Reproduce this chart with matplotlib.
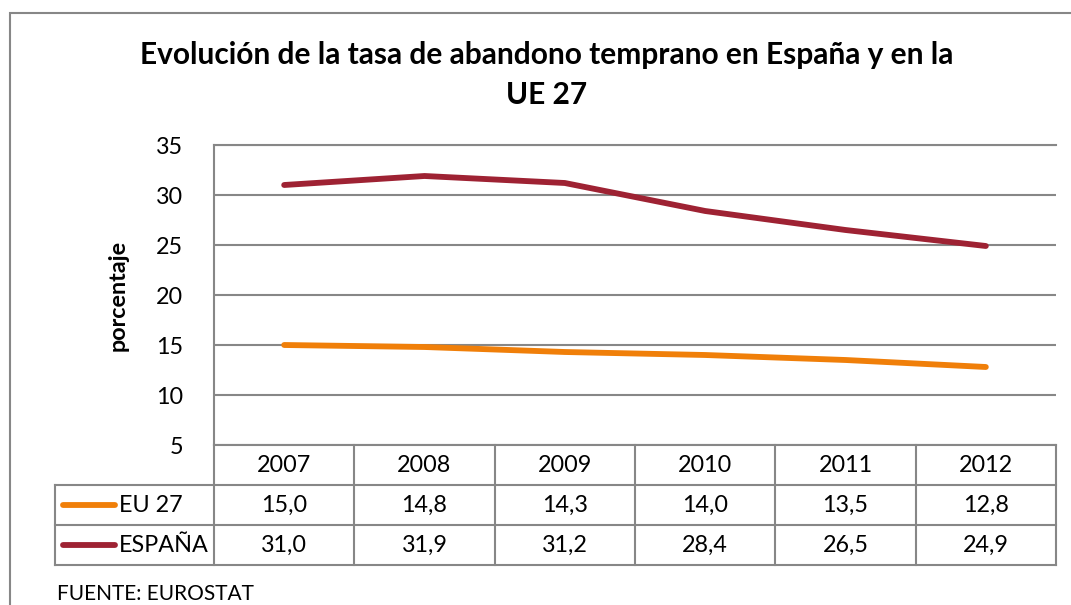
import numpy as np
import matplotlib.pyplot as plt
from matplotlib.lines import Line2D
from matplotlib.patches import Rectangle

plt.rcParams['font.family'] = ['Lato', 'DejaVu Sans']

years = ['2007', '2008', '2009', '2010', '2011', '2012']
eu27 = [15.0, 14.8, 14.3, 14.0, 13.5, 12.8]
espana = [31.0, 31.9, 31.2, 28.4, 26.5, 24.9]
series_names = ['EU 27', 'ESPAÑA']
colores = ['#F07F09', '#9E2233']
yticks = [5, 10, 15, 20, 25, 30, 35]

W, H = 1071, 605
gris = '#878787'
fs = 16.8

def fx(px):
    return px / W

def fy(py):
    return 1 - py / H

fig = plt.figure(figsize=(W / 100, H / 100), dpi=100)

# marco exterior
fig.add_artist(Rectangle((fx(10), fy(700)), fx(1100), fy(13) - fy(700),
                         fill=False, edgecolor=gris, lw=1.5, transform=fig.transFigure))

# area del grafico
left, right, top, bottom = 214, 1056, 145, 445
ax = fig.add_axes([fx(left), fy(bottom), fx(right - left), fy(top) - fy(bottom)])
x = np.arange(len(years))
ax.plot(x, eu27, color=colores[0], lw=4.2, solid_capstyle='round')
ax.plot(x, espana, color=colores[1], lw=4.2, solid_capstyle='round')
ax.set_xlim(-0.5, len(years) - 0.5)
ax.set_ylim(5, 35)
ax.set_yticks(yticks)
ax.set_yticklabels([str(t) for t in yticks], fontsize=fs)
ax.set_xticks([])
ax.tick_params(axis='y', length=0, pad=22)
ax.grid(axis='y', color=gris, lw=1.5)
ax.set_axisbelow(True)
for s in ['right', 'bottom']:
    ax.spines[s].set_visible(False)
for s in ['left', 'top']:
    ax.spines[s].set_color(gris)
    ax.spines[s].set_linewidth(1.5)
ax.set_ylabel('porcentaje', fontsize=16.8, fontweight='bold', labelpad=20)

fig.text(fx(547), fy(55), 'Evolución de la tasa de abandono temprano en España y en la',
         ha='center', va='center', fontsize=21.5, fontweight='bold')
fig.text(fx(547), fy(95), 'UE 27', ha='center', va='center', fontsize=21.5, fontweight='bold')

# tabla de datos
col_w = (right - left) / len(years)
row_y = [445, 485, 525, 565]
lab_left = 55

def hline(x0, x1, y):
    fig.add_artist(Line2D([fx(x0), fx(x1)], [fy(y), fy(y)], color=gris, lw=1.5,
                          transform=fig.transFigure))

def vline(x, y0, y1):
    fig.add_artist(Line2D([fx(x), fx(x)], [fy(y0), fy(y1)], color=gris, lw=1.5,
                          transform=fig.transFigure))

hline(left, right, row_y[0])
for y in row_y[1:]:
    hline(lab_left, right, y)
vline(lab_left, row_y[1], row_y[3])
for i in range(len(years) + 1):
    vline(left + i * col_w, row_y[0], row_y[3])

for i, yr in enumerate(years):
    fig.text(fx(left + (i + 0.5) * col_w), fy(465), yr, ha='center', va='center', fontsize=fs)

for r, (name, vals, c) in enumerate(zip(series_names, [eu27, espana], colores)):
    yc = (row_y[r + 1] + row_y[r + 2]) / 2
    fig.add_artist(Line2D([fx(63), fx(115)], [fy(yc), fy(yc)], color=c, lw=4.2,
                          solid_capstyle='round', transform=fig.transFigure))
    fig.text(fx(119), fy(yc), name, ha='left', va='center', fontsize=fs)
    for i, v in enumerate(vals):
        fig.text(fx(left + (i + 0.5) * col_w), fy(yc), f'{v:.1f}'.replace('.', ','),
                 ha='center', va='center', fontsize=fs)

fig.text(fx(57), fy(594), 'FUENTE: EUROSTAT', ha='left', va='center', fontsize=15)

fig.savefig('out.png', dpi=100)
